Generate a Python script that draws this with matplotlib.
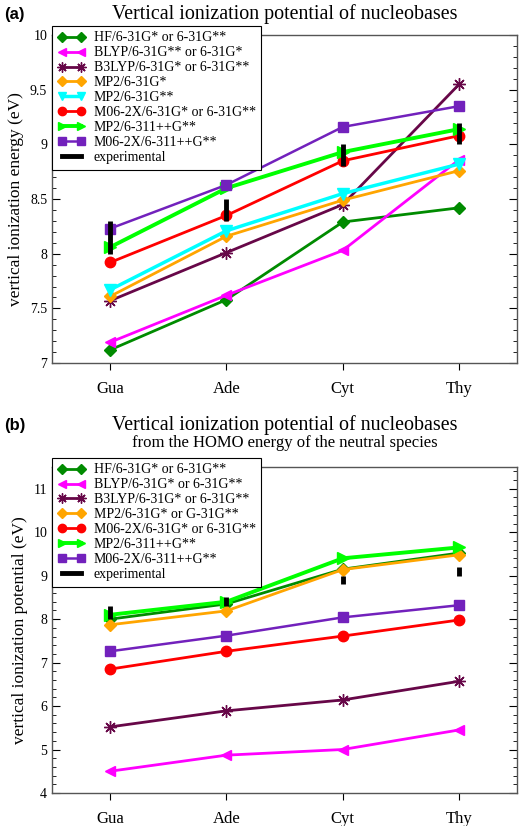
import matplotlib
import matplotlib.pyplot as plt
from matplotlib.lines import Line2D
from matplotlib.ticker import MultipleLocator
matplotlib.use('Agg')

plt.rcParams['font.family'] = ['Liberation Serif', 'DejaVu Serif']

bases = ['Gua', 'Ade', 'Cyt', 'Thy']

# panel (a): vertical ionization energy
a_labels = ['HF/6-31G* or 6-31G**', 'BLYP/6-31G** or 6-31G*',
            'B3LYP/6-31G* or 6-31G**', 'MP2/6-31G*', 'MP2/6-31G**',
            'M06-2X/6-31G* or 6-31G**', 'MP2/6-311++G**', 'M06-2X/6-311++G**']
a_hf = [7.12, 7.58, 8.29, 8.42]
a_blyp = [7.19, 7.62, 8.03, 8.86]
a_b3lyp = [7.57, 8.01, 8.45, 9.55]
a_mp2_s = [7.61, 8.16, 8.49, 8.76]
a_mp2_ss = [7.67, 8.21, 8.55, 8.82]
a_m06 = [7.92, 8.35, 8.85, 9.08]
a_mp2_big = [8.06, 8.60, 8.93, 9.14]
a_m06_big = [8.23, 8.63, 9.16, 9.35]

# panel (b): from HOMO energy
b_labels = ['HF/6-31G* or 6-31G**', 'BLYP/6-31G* or 6-31G**',
            'B3LYP/6-31G* or 6-31G**', 'MP2/6-31G* or G-31G**',
            'M06-2X/6-31G* or 6-31G**', 'MP2/6-311++G**', 'M06-2X/6-311++G**']
b_hf = [8.00, 8.35, 9.15, 9.52]
b_blyp = [4.50, 4.87, 5.00, 5.45]
b_b3lyp = [5.52, 5.89, 6.14, 6.57]
b_mp2 = [7.87, 8.19, 9.14, 9.48]
b_m06 = [6.85, 7.26, 7.61, 7.98]
b_mp2_big = [8.10, 8.40, 9.40, 9.65]
b_m06_big = [7.26, 7.62, 8.04, 8.32]

# experimental ranges
exp_low = [8.0, 8.3, 8.8, 9.0]
exp_high = [8.3, 8.5, 9.0, 9.2]

# styles: color, marker, marker size, line width
styles = {
    'hf': ('#008b00', 'D', 6, 2.0),
    'blyp': ('#ff00ff', '<', 7, 2.0),
    'b3lyp': ('#670748', (8, 2, 0), 9, 2.0),
    'mp2_s': ('#ffa500', 'D', 6, 2.0),
    'mp2_ss': ('#00ffff', 'v', 8, 2.5),
    'm06': ('#ff0000', 'o', 7.5, 2.0),
    'mp2_big': ('#00ff00', '>', 8, 2.8),
    'm06_big': ('#7221bc', 's', 7, 1.8),
}

fig = plt.figure(figsize=(5.21, 8.26), dpi=100)
ax_a = fig.add_axes([0.0998, 0.5605, 0.893, 0.397])
ax_b = fig.add_axes([0.0998, 0.040, 0.893, 0.3946])

x = list(range(len(bases)))


def draw_series(ax, series, labels):
    handles = []
    for (key, values), label in zip(series, labels):
        color, marker, ms, lw = styles[key]
        line, = ax.plot(x, values, color=color, marker=marker, markersize=ms,
                        linewidth=lw, label=label)
        handles.append(line)
    ax.vlines(x, exp_low, exp_high, color='black', linewidth=3.5, zorder=5)
    handles.append(Line2D([], [], color='black', linewidth=3.5))
    return handles


def style_axes(ax, ylim, major, minor):
    ax.set_xlim(-0.5, 3.5)
    ax.set_ylim(*ylim)
    ax.set_xticks(x)
    ax.set_xticklabels(bases, fontsize=12)
    ax.yaxis.set_major_locator(MultipleLocator(major))
    ax.yaxis.set_minor_locator(MultipleLocator(minor))
    ax.tick_params(axis='x', direction='out', length=5, pad=8)
    ax.tick_params(axis='y', which='both', direction='in', left=True, right=True,
                   labelsize=10)
    ax.tick_params(axis='y', which='major', length=6)
    ax.tick_params(axis='y', which='minor', length=3)
    for spine in ax.spines.values():
        spine.set_color('#555555')
        spine.set_linewidth(1.0)


def add_legend(ax, handles, labels):
    leg = ax.legend(handles, labels + ['experimental'], loc='upper left',
                    bbox_to_anchor=(0.0, 1.028), fontsize=10, numpoints=2,
                    markerscale=0.8, handlelength=2.0, labelspacing=0.14,
                    borderpad=0.4, handletextpad=0.6, fancybox=False,
                    framealpha=1, edgecolor='black', borderaxespad=0)
    leg.get_frame().set_linewidth(0.8)


series_a = [('hf', a_hf), ('blyp', a_blyp), ('b3lyp', a_b3lyp), ('mp2_s', a_mp2_s),
            ('mp2_ss', a_mp2_ss), ('m06', a_m06), ('mp2_big', a_mp2_big),
            ('m06_big', a_m06_big)]
handles_a = draw_series(ax_a, series_a, a_labels)
style_axes(ax_a, (7, 10), 0.5, 0.1)
ax_a.set_yticks([7, 7.5, 8, 8.5, 9, 9.5, 10])
ax_a.set_yticklabels(['7', '7.5', '8', '8.5', '9', '9.5', '10'])
ax_a.set_ylabel('vertical ionization energy (eV)', fontsize=12.5)
add_legend(ax_a, handles_a, a_labels)

series_b = [('hf', b_hf), ('blyp', b_blyp), ('b3lyp', b_b3lyp), ('mp2_s', b_mp2),
            ('m06', b_m06), ('mp2_big', b_mp2_big), ('m06_big', b_m06_big)]
handles_b = draw_series(ax_b, series_b, b_labels)
style_axes(ax_b, (4, 11.5), 1, 0.2)
ax_b.set_ylabel('vertical ionization potential (eV)', fontsize=12.5)
add_legend(ax_b, handles_b, b_labels)

# titles and panel labels
fig.text(0.546, 0.983, 'Vertical ionization potential of nucleobases',
         ha='center', va='center', fontsize=14.4)
fig.text(0.546, 0.485, 'Vertical ionization potential of nucleobases',
         ha='center', va='center', fontsize=14.4)
fig.text(0.546, 0.464, 'from the HOMO energy of the neutral species',
         ha='center', va='center', fontsize=12)
fig.text(0.008, 0.983, '(a)', ha='left', va='center', fontsize=12,
         fontweight='bold', family=['Liberation Sans', 'DejaVu Sans'])
fig.text(0.008, 0.485, '(b)', ha='left', va='center', fontsize=12,
         fontweight='bold', family=['Liberation Sans', 'DejaVu Sans'])

plt.savefig('out.png', dpi=100)
